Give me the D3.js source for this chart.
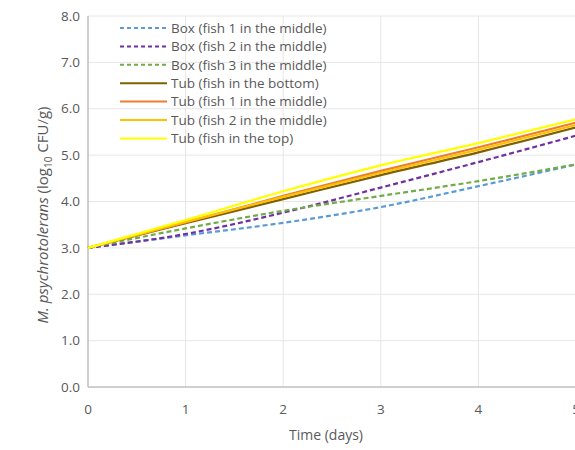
<!DOCTYPE html>
<html><head><meta charset="utf-8">
<script src="https://cdn.jsdelivr.net/npm/d3@7"></script>
<style>body{margin:0;background:#fff}svg{display:block}text{font-family:"Open Sans","Liberation Sans",sans-serif;fill:#595959}</style>
</head><body><svg id="c" width="575" height="450"></svg>
<script>
const days = [0,1,2,3,4,5];
const seriesNames = ["Box (fish 1 in the middle)","Box (fish 2 in the middle)","Box (fish 3  in the middle)","Tub (fish in the bottom)","Tub (fish 1 in the middle)","Tub (fish 2 in the middle)","Tub (fish in the top)"];
const box1 = [3.0,3.27,3.54,3.88,4.33,4.8];
const box2 = [3.0,3.3,3.76,4.3,4.85,5.42];
const box3 = [3.0,3.42,3.8,4.12,4.44,4.8];
const tubBottom = [3.0,3.53,4.05,4.57,5.06,5.6];
const tub1 = [3.0,3.55,4.12,4.66,5.17,5.7];
const tub2 = [3.0,3.56,4.1,4.62,5.12,5.65];
const tubTop = [3.0,3.6,4.22,4.78,5.26,5.77];
const yTicks = [0,1,2,3,4,5,6,7,8];
const xTicks = [0,1,2,3,4,5];

const allSeries = [box1,box2,box3,tubBottom,tub1,tub2,tubTop];
const colors = ["#5B9BD5","#7030A0","#70AD47","#7F6000","#ED7D31","#FFC000","#FFFF00"];
const dashed = [true,true,true,false,false,false,false];

const svg = d3.select("#c");
const L=88, R=576, T=16, B=387;
const x = d3.scaleLinear().domain([0,5]).range([L,R]);
const y = d3.scaleLinear().domain([0,8]).range([B,T]);

svg.append("g").selectAll("line").data(yTicks.slice(1)).join("line")
  .attr("x1",L).attr("x2",R).attr("y1",d=>y(d)).attr("y2",d=>y(d))
  .attr("stroke","#e6e6e6").attr("stroke-width",1);
svg.append("g").selectAll("line").data(xTicks.slice(1)).join("line")
  .attr("x1",d=>x(d)).attr("x2",d=>x(d)).attr("y1",T).attr("y2",B)
  .attr("stroke","#e6e6e6").attr("stroke-width",1);

svg.append("line").attr("x1",L).attr("x2",L).attr("y1",T).attr("y2",B).attr("stroke","#bfbfbf").attr("stroke-width",1.5);
svg.append("line").attr("x1",L).attr("x2",R).attr("y1",B).attr("y2",B).attr("stroke","#bfbfbf").attr("stroke-width",1.5);

svg.append("g").selectAll("text").data(yTicks).join("text")
  .attr("x",L-8).attr("y",d=>y(d)).attr("dy","0.35em").attr("text-anchor","end")
  .attr("font-size",13.5).text(d=>d.toFixed(1));
svg.append("g").selectAll("text").data(xTicks).join("text")
  .attr("x",d=>x(d)).attr("y",B+22).attr("dy","0.35em").attr("text-anchor","middle")
  .attr("font-size",13.5).text(d=>d);

svg.append("text").attr("x",(L+R)/2-6).attr("y",440).attr("text-anchor","middle").attr("font-size",14).text("Time (days)");
const yl = svg.append("text").attr("transform","translate(48,215) rotate(-90)").attr("text-anchor","middle").attr("font-size",15);
yl.append("tspan").attr("font-style","italic").text("M. psychrotolerans");
yl.append("tspan").text(" (log");
yl.append("tspan").attr("font-size",10).attr("dy",4).text("10");
yl.append("tspan").attr("dy",-4).text(" CFU/g)");

const line = d3.line().x((d,i)=>x(days[i])).y(d=>y(d)).curve(d3.curveMonotoneX);
svg.append("g").selectAll("path").data(allSeries).join("path")
  .attr("d",d=>line(d)).attr("fill","none")
  .attr("stroke",(d,i)=>colors[i]).attr("stroke-width",2.2)
  .attr("stroke-dasharray",(d,i)=>dashed[i]?"5,3":null);

const lg = svg.append("g").selectAll("g").data(seriesNames).join("g")
  .attr("transform",(d,i)=>`translate(0,${28+i*18.4})`);
lg.append("line").attr("x1",120).attr("x2",167).attr("y1",0).attr("y2",0)
  .attr("stroke",(d,i)=>colors[i]).attr("stroke-width",2)
  .attr("stroke-dasharray",(d,i)=>dashed[i]?"4,3":null);
lg.append("text").attr("x",171).attr("y",0).attr("dy","0.35em").attr("font-size",13.5).text(d=>d);
</script></body></html>
